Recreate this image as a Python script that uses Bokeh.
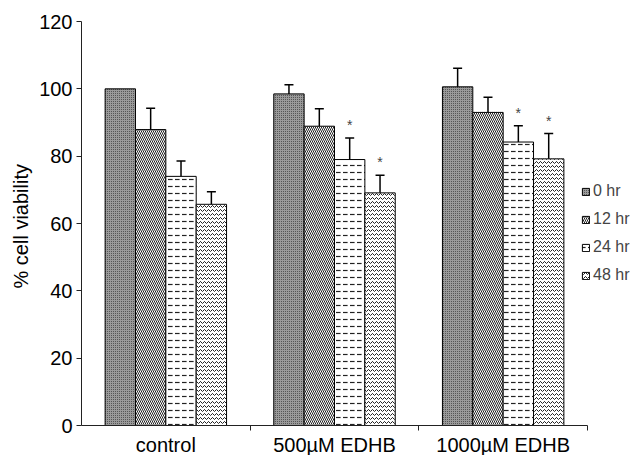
from bokeh.plotting import figure
from bokeh.models import ColumnDataSource, Whisker, TeeHead, FixedTicker, Legend, LegendItem, Range1d
from bokeh.core.properties import value
from bokeh.embed import file_html
from bokeh.resources import INLINE

groups = ["control", "500\u00b5M EDHB", "1000\u00b5M EDHB"]
hours = ["0 hr", "12 hr", "24 hr", "48 hr"]
v0 = [100.0, 98.5, 100.6]
v12 = [87.9, 88.9, 93.0]
v24 = [74.0, 79.0, 84.2]
v48 = [65.7, 69.1, 79.2]
e0 = [0.0, 2.7, 5.5]
e12 = [6.3, 5.2, 4.5]
e24 = [4.6, 6.4, 4.8]
e48 = [3.7, 5.2, 7.5]
s0 = [False, False, False]
s12 = [False, False, False]
s24 = [False, True, True]
s48 = [False, True, True]
y_ticks = [0, 20, 40, 60, 80, 100, 120]

means = [v0, v12, v24, v48]
errs = [e0, e12, e24, e48]
stars = [s0, s12, s24, s48]

FONT = "Liberation Sans"
styles = [
    dict(fill_color="#9a9a9a", hatch_pattern="dot", hatch_color="#404040", hatch_scale=2, hatch_weight=1),
    dict(fill_color="white", hatch_pattern="left_diagonal_line", hatch_color="#222222", hatch_scale=4, hatch_weight=1),
    dict(fill_color="white", hatch_pattern="horizontal_dash", hatch_color="#222222", hatch_scale=7, hatch_weight=1.2),
    dict(fill_color="white", hatch_pattern="horizontal_wave", hatch_color="#222222", hatch_scale=4, hatch_weight=1),
]

bar_w = 0.18
offsets = [-0.27, -0.09, 0.09, 0.27]

p = figure(frame_width=506, frame_height=404, output_backend="svg", toolbar_location=None,
           x_range=Range1d(0, len(groups)), y_range=Range1d(0, 120),
           min_border_left=81, min_border_right=0, min_border_top=21, min_border_bottom=28)
p.outline_line_color = None
p.xgrid.grid_line_color = None
p.ygrid.grid_line_color = None

items = []
for k, h in enumerate(hours):
    xs = [i + 0.5 + offsets[k] for i in range(len(groups))]
    up = [m + e for m, e in zip(means[k], errs[k])]
    lo = [m - e for m, e in zip(means[k], errs[k])]
    src = ColumnDataSource(dict(x=xs, top=means[k], upper=up, lower=lo))
    r = p.vbar(x="x", top="top", width=bar_w, source=src, line_color="black", line_width=1, **styles[k])
    items.append(LegendItem(label=h, renderers=[r]))
    ws = [(x, u, l) for x, u, l, e in zip(xs, up, lo, errs[k]) if e > 0]
    if ws:
        wsrc = ColumnDataSource(dict(x=[w[0] for w in ws], upper=[w[1] for w in ws], lower=[w[2] for w in ws]))
        wh = Whisker(base="x", upper="upper", lower="lower", source=wsrc, line_color="black", line_width=1.5,
                     upper_head=TeeHead(size=9, line_color="black", line_width=1.5),
                     lower_head=TeeHead(size=9, line_color="black", line_width=1.5))
        p.add_layout(wh)
    sx = [x for x, s in zip(xs, stars[k]) if s]
    sy = [u + 1.5 for u, s in zip(up, stars[k]) if s]
    if sx:
        p.text(x=sx, y=sy, text=["*"] * len(sx), text_align="center", text_baseline="bottom",
               text_font=value(FONT), text_font_size="14px", text_color="#444444")

# axes
p.yaxis.ticker = FixedTicker(ticks=y_ticks)
p.yaxis.axis_label = "%  cell viability"
p.yaxis.axis_label_text_font = FONT
p.yaxis.axis_label_text_font_style = "normal"
p.yaxis.axis_label_text_font_size = "20px"
p.yaxis.axis_label_text_color = "black"
p.yaxis.axis_label_standoff = 4
p.yaxis.major_label_text_font = FONT
p.yaxis.major_label_text_font_size = "20px"
p.yaxis.major_label_text_color = "black"
p.yaxis.major_tick_in = 0
p.yaxis.major_tick_out = 5
p.yaxis.minor_tick_line_color = None
p.yaxis.axis_line_color = "#222222"
p.yaxis.major_tick_line_color = "#222222"
p.yaxis.major_label_standoff = 4

centers = [i + 0.5 for i in range(len(groups))]
p.xaxis.ticker = FixedTicker(ticks=centers, minor_ticks=[i + 1 for i in range(len(groups))])
p.xaxis.major_label_overrides = {c: g for c, g in zip(centers, groups)}
p.xaxis.major_tick_line_color = None
p.xaxis.major_tick_in = 0
p.xaxis.major_tick_out = 0
p.xaxis.minor_tick_in = 0
p.xaxis.minor_tick_out = 5
p.xaxis.minor_tick_line_color = "#222222"
p.xaxis.axis_line_color = "#222222"
p.xaxis.major_label_text_font = FONT
p.xaxis.major_label_text_font_size = "20px"
p.xaxis.major_label_text_color = "black"
p.xaxis.major_label_standoff = 3

legend = Legend(items=items, location=(-6, 141), padding=0, margin=0, spacing=10,
                glyph_width=9, glyph_height=9, label_height=16, label_standoff=3,
                label_text_font=FONT, label_text_font_size="16px",
                background_fill_alpha=0, border_line_color=None)
p.add_layout(legend, "right")

open("out.html", "w").write(file_html(p, INLINE))
